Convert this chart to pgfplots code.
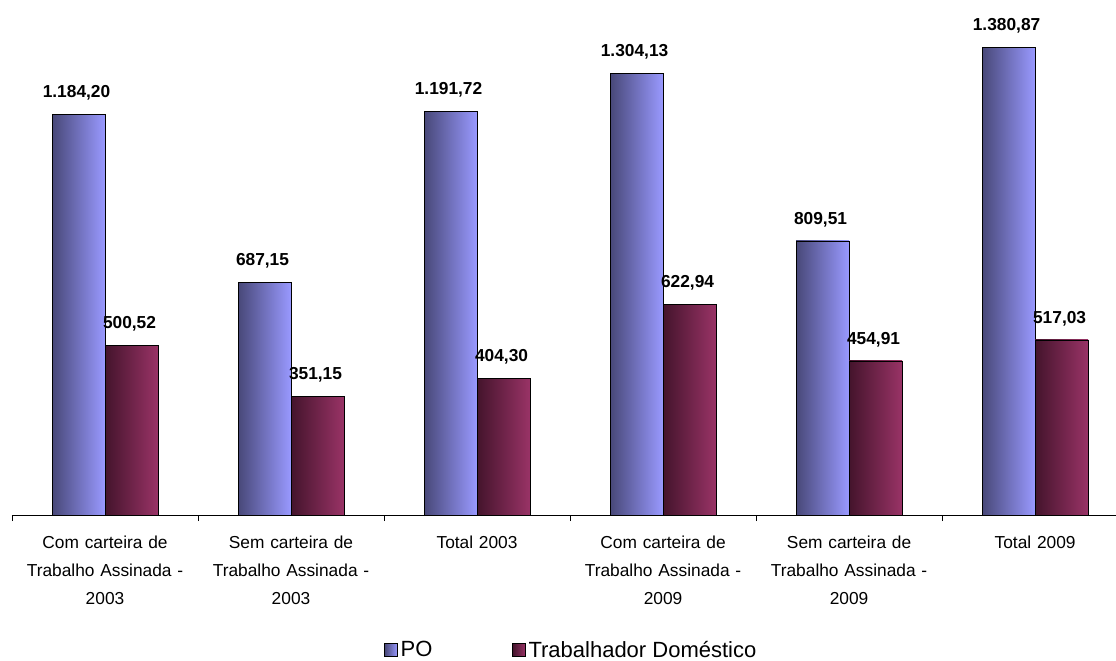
\documentclass[border=0pt]{standalone}
\usepackage{fontspec}
\setmainfont{Liberation Sans}
\usepackage{pgfplots}
\pgfplotsset{compat=1.18}

\definecolor{poDark}{RGB}{72,72,120}
\definecolor{poLight}{RGB}{153,153,255}
\definecolor{tdDark}{RGB}{68,20,44}
\definecolor{tdLight}{RGB}{153,51,102}

\pgfplotsset{
  sq legend/.style={
    legend image code/.code={
      \draw[##1,draw=black,line width=0.5pt] (0pt,-4.6pt) rectangle (9.6pt,5pt);
    }
  },
  po bar/.style={draw=black, line width=0.6pt, left color=poDark,
    middle color=poLight!75!poDark, right color=poLight,
    bar shift=-19.875pt, sq legend},
  td bar/.style={draw=black, line width=0.6pt, left color=tdDark,
    middle color=tdLight!70!tdDark, right color=tdLight,
    bar shift=19.875pt, sq legend},
}

\begin{document}
\begin{tikzpicture}
\useasboundingbox (0,0) rectangle (837pt,495pt);
\begin{axis}[
  at={(9pt,108.75pt)}, anchor=south west,
  scale only axis, width=828pt, height=386.25pt,
  xmin=-0.5, xmax=5.435, ymin=0, ymax=1521,
  clip=false,
  ybar=0pt, bar width=39.75pt,
  axis x line*=bottom, axis y line=none,
  x axis line style={-, black, line width=0.6pt},
  xtick={0,...,5},
  major tick length=0pt,
  minor xtick={-0.5,0.5,1.5,2.5,3.5,4.5},
  minor tick length=4.5pt,
  tick align=outside,
  minor tick style={black, line width=0.6pt},
  xticklabels={
    {Com carteira de\\Trabalho Assinada -\\2003},
    {Sem carteira de\\Trabalho Assinada -\\2003},
    {Total 2003},
    {Com carteira de\\Trabalho Assinada -\\2009},
    {Sem carteira de\\Trabalho Assinada -\\2009},
    {Total 2009}},
  xticklabel style={font=\fontsize{13}{21}\selectfont, align=center,
    text width=140pt, anchor=north, yshift=-12.5pt},
  ytick=\empty,
  point meta=y,
  nodes near coords={\pgfmathprintnumber[fixed,fixed zerofill,precision=2,
    use comma,1000 sep={.},assume math mode=true]{\pgfplotspointmeta}},
  every node near coord/.append style={font=\fontsize{13}{15}\selectfont\bfseries,
    anchor=base, yshift=12.5pt, xshift=-1.5pt, black},
  legend columns=2,
  legend style={at={(0.507,-0.262)}, anchor=center, draw=none, fill=none,
    font=\fontsize{16.5}{19}\selectfont,
    /tikz/every even column/.append style={column sep=58pt}},
]
% PO, one bar per plot so that each bar gets its own shading
\addplot[po bar] coordinates {(0,1184.20)};
\addplot[po bar, forget plot] coordinates {(1,687.15)};
\addplot[po bar, forget plot] coordinates {(2,1191.72)};
\addplot[po bar, forget plot] coordinates {(3,1304.13)};
\addplot[po bar, forget plot] coordinates {(4,809.51)};
\addplot[po bar, forget plot] coordinates {(5,1380.87)};
% Trabalhador Doméstico
\addplot[td bar] coordinates {(0,500.52)};
\addplot[td bar, forget plot] coordinates {(1,351.15)};
\addplot[td bar, forget plot] coordinates {(2,404.30)};
\addplot[td bar, forget plot] coordinates {(3,622.94)};
\addplot[td bar, forget plot] coordinates {(4,454.91)};
\addplot[td bar, forget plot] coordinates {(5,517.03)};
\legend{PO, Trabalhador Doméstico}
\end{axis}
\end{tikzpicture}
\end{document}
